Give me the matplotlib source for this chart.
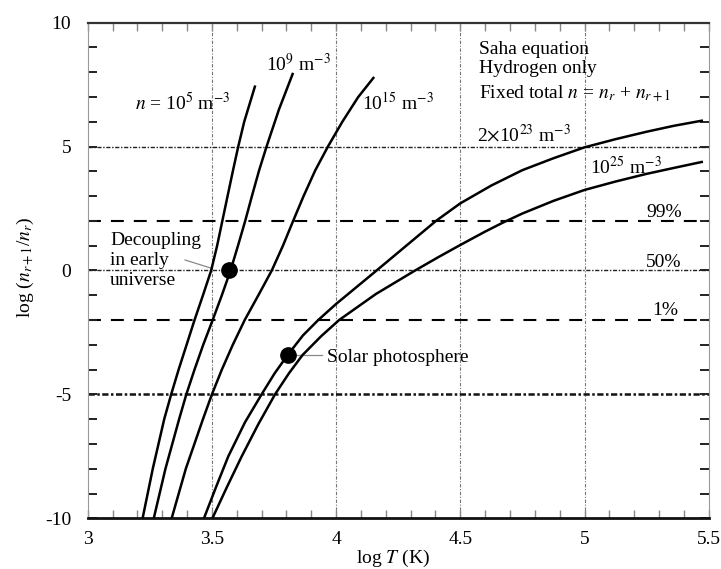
import matplotlib
matplotlib.use("Agg")
import matplotlib.pyplot as plt
from matplotlib.ticker import FixedLocator, MultipleLocator

plt.rcParams['font.family'] = ['Liberation Serif', 'DejaVu Serif']
plt.rcParams['mathtext.fontset'] = 'stix'

# ---- data ----
# n = 1e5 m^-3
a_y    = [-10, -8, -6, -5, -4, -3.22, -2, -1, 0, 1, 2, 3, 4.04, 5, 6, 7.42]
a_logT = [3.221, 3.262, 3.308, 3.336, 3.366, 3.391, 3.430, 3.464, 3.497, 3.521,
          3.542, 3.563, 3.585, 3.606, 3.630, 3.673]
# n = 1e9 m^-3
b_y    = [-10, -8, -6, -5, -4, -3, -2, -1, 0, 1, 2, 3, 4.04, 5, 6.5, 7.93]
b_logT = [3.266, 3.313, 3.368, 3.397, 3.430, 3.465, 3.503, 3.540, 3.575, 3.605,
          3.634, 3.661, 3.690, 3.720, 3.770, 3.825]
# n = 1e15 m^-3
c_y    = [-10, -8, -6, -5, -4, -3, -2, -1, 0, 1, 2, 3, 4.04, 5, 6, 7, 7.77]
c_logT = [3.338, 3.395, 3.464, 3.500, 3.540, 3.584, 3.632, 3.687, 3.741, 3.786,
          3.827, 3.869, 3.916, 3.967, 4.025, 4.089, 4.150]
# n = 2e23 m^-3
d_logT = [3.468, 3.517, 3.566, 3.633, 3.700, 3.7525, 3.805, 3.8665, 3.928, 4.000,
          4.163, 4.280, 4.402, 4.500, 4.625, 4.750, 4.875, 5.000, 5.125, 5.250,
          5.360, 5.472]
d_y    = [-10, -8.73, -7.5, -6.13, -5, -4.15, -3.41, -2.62, -2, -1.35,
          0, 0.98, 2, 2.71, 3.43, 4.05, 4.53, 4.97, 5.30, 5.60, 5.84, 6.045]
# n = 1e25 m^-3
e_logT = [3.502, 3.560, 3.620, 3.687, 3.754, 3.810, 3.865, 3.940, 4.012, 4.160,
          4.318, 4.410, 4.500, 4.600, 4.673, 4.750, 4.875, 5.000, 5.125, 5.250,
          5.360, 5.472]
e_y    = [-10, -8.75, -7.5, -6.2, -5, -4.15, -3.41, -2.65, -2, -0.95,
          0, 0.53, 1.03, 1.57, 1.94, 2.30, 2.81, 3.25, 3.59, 3.90, 4.14, 4.38]

decoupling_pt = (3.569, 0.0)
solar_pt = (3.805, -3.41)

xticks = [3, 3.5, 4, 4.5, 5, 5.5]
xtick_labels = ['3', '3.5', '4', '4.5', '5', '5.5']
yticks = [-10, -5, 0, 5, 10]
ytick_labels = ['-10', '-5', '0', '5', '10']
vgrid = [3.5, 4.0, 4.5, 5.0]
hdashdot = [5, 0]
hdashed = [2, -2]

fig = plt.figure(figsize=(7.21, 5.69), dpi=100)
ax = fig.add_axes([87.7/721, 1-518.3/569, 621/721, 495.6/569])
ax.set_xlim(3, 5.5)
ax.set_ylim(-10, 10)

# reference lines
for xv in vgrid:
    ax.axvline(xv, color='#777777', lw=0.8, linestyle=(0, (3, 1.5, 1, 1.5)), zorder=1)
for yv in hdashdot:
    ax.axhline(yv, color='#222222', lw=1.0, linestyle=(0, (3, 1.2, 1, 1.2)), zorder=1)
ax.axhline(-5, color='#111111', lw=1.8, linestyle=(0, (2.5, 1, 1, 1)), zorder=1)
for yv in hdashed:
    ax.axhline(yv, color='black', lw=1.5, linestyle=(0, (6.2, 4.8)), zorder=1)

# curves
for xs, ys in [(a_logT, a_y), (b_logT, b_y), (c_logT, c_y), (d_logT, d_y), (e_logT, e_y)]:
    ax.plot(xs, ys, color='black', lw=1.8, solid_joinstyle='round', zorder=3)

ax.plot([decoupling_pt[0]], [decoupling_pt[1]], 'o', color='black', ms=11, zorder=4)
ax.plot([solar_pt[0]], [solar_pt[1]], 'o', color='black', ms=11, zorder=4)

# pointer lines
ax.plot([3.392, 3.499], [0.423, 0.089], color='#888888', lw=0.9, zorder=2)
ax.plot([3.826, 3.943], [-3.41, -3.41], color='#888888', lw=0.9, zorder=2)

fs = 14
ax.text(3.191, 6.48, r'$n$ = 10$^5$ m$^{-3}$', fontsize=fs, va='baseline')
ax.text(3.717, 8.03, r'10$^9$ m$^{-3}$', fontsize=fs, va='baseline')
ax.text(4.103, 6.48, r'10$^{15}$ m$^{-3}$', fontsize=fs, va='baseline')
ax.text(4.575, 8.74, 'Saha equation', fontsize=fs, va='baseline')
ax.text(4.575, 7.96, 'Hydrogen only', fontsize=fs, va='baseline')
ax.text(4.575, 6.91, r'Fixed total $n$ = $n_r$ + $n_{r+1}$', fontsize=fs, va='baseline')
ax.text(4.566, 5.20, r'2$\times$10$^{23}$ m$^{-3}$', fontsize=fs, va='baseline')
ax.text(5.022, 3.89, r'10$^{25}$ m$^{-3}$', fontsize=fs, va='baseline')
ax.text(5.391, 2.17, '99%', fontsize=fs, va='baseline', ha='right')
ax.text(5.391, 0.155, '50%', fontsize=fs, va='baseline', ha='right')
ax.text(5.378, -1.80, '1%', fontsize=fs, va='baseline', ha='right')
ax.text(3.090, 1.03, 'Decoupling', fontsize=fs, va='baseline')
ax.text(3.090, 0.22, 'in early', fontsize=fs, va='baseline')
ax.text(3.090, -0.585, 'universe', fontsize=fs, va='baseline')
ax.text(3.965, -3.68, 'Solar photosphere', fontsize=fs, va='baseline')

# ticks
ax.xaxis.set_major_locator(FixedLocator(xticks))
ax.set_xticklabels(xtick_labels)
ax.xaxis.set_minor_locator(MultipleLocator(0.1))
ax.yaxis.set_major_locator(FixedLocator(yticks))
ax.set_yticklabels(ytick_labels)
ax.yaxis.set_minor_locator(MultipleLocator(1))
ax.tick_params(axis='x', which='both', direction='in', top=True, bottom=True,
               length=6, width=1.0, color='#888888', labelsize=fs, pad=9)
ax.tick_params(axis='y', which='both', direction='in', left=True, right=True,
               length=6.5, width=1.4, color='#222222', labelsize=fs, pad=12)

for s in ['left', 'right']:
    ax.spines[s].set_color('#999999')
    ax.spines[s].set_linewidth(0.8)
ax.spines['top'].set_color('#333333')
ax.spines['top'].set_linewidth(1.6)
ax.spines['bottom'].set_color('#111111')
ax.spines['bottom'].set_linewidth(2.0)

ax.set_xlabel(r'log $T$ (K)', fontsize=fs)
ax.xaxis.set_label_coords(0.4916, -0.0815)
ax.xaxis.label.set_va('center')
ax.set_ylabel(r'log ($n_{r+1}$/$n_r$)', fontsize=fs)
ax.yaxis.set_label_coords(-0.101, 0.507)
ax.yaxis.label.set_va('center')

fig.savefig('out.png', dpi=100)
